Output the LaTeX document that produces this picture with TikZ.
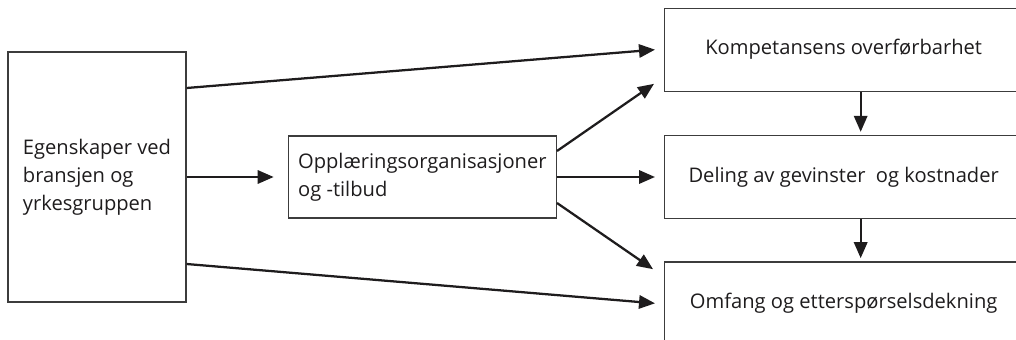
\documentclass[tikz,border=0pt]{standalone}
\usepackage{fontspec}
\setmainfont{Open Sans}
\usetikzlibrary{arrows.meta,positioning}
\definecolor{boxLine}{RGB}{60, 60, 60}
\definecolor{arrowInk}{RGB}{30, 28, 29}

\begin{document}
\begin{tikzpicture}[
  x=0.75pt, y=-0.75pt,
  factor/.style={
    draw=boxLine,
    line width=1pt,
    align=left,
    inner sep=0pt,
    font=\fontsize{15.1}{21}\selectfont,
    text=arrowInk
  },
  outcome/.style={
    factor,
    align=center,
    minimum width=268.5pt,
    minimum height=62.25pt
  },
  arrow/.style={-{Triangle[length=12pt,width=10pt]},line width=1.7pt,arrowInk}
]
  \clip (0,0) rectangle (1016,339);

  \node[factor,minimum width=133.5pt,minimum height=187.5pt] (egenskaper) at (97,177)
    {Egenskaper ved\\bransjen og\\yrkesgruppen};
  \node[factor,minimum width=201pt,minimum height=61.5pt,right=75.75pt of egenskaper] (opplaering)
    {Opplæringsorganisasjoner\\og -tilbud};
  \node[outcome,right=80.25pt of opplaering] (deling)
    {Deling av gevinster\ \ og kostnader};
  \node[outcome,above=32.25pt of deling] (kompetanse)
    {Kompetansens overførbarhet};
  \node[outcome,below=31.5pt of deling] (omfang)
    {Omfang og etterspørselsdekning};

  % fra bransjen
  \draw[arrow] ([yshift=66.75pt]egenskaper.east) -- ([xshift=-6.75pt]kompetanse.west);
  \draw[arrow,shorten >=10.5pt] (egenskaper) -- (opplaering);
  \draw[arrow] ([yshift=-65.25pt]egenskaper.east) -- ([xshift=-6.75pt]omfang.west);

  % fra opplaeringen
  \draw[arrow] ([yshift=19.5pt]opplaering.east) -- ([xshift=-7.5pt,yshift=6pt]kompetanse.south west);
  \draw[arrow,shorten >=6.75pt] (opplaering) -- (deling);
  \draw[arrow] ([yshift=-19.5pt]opplaering.east) -- ([xshift=-8.25pt,yshift=-6pt]omfang.north west);

  % nedover i kolonnen
  \draw[arrow,shorten >=2.25pt] ([xshift=12.75pt]kompetanse.south) -- ([xshift=12.75pt]deling.north);
  \draw[arrow,shorten >=2.25pt] ([xshift=12.75pt]deling.south) -- ([xshift=12.75pt]omfang.north);
\end{tikzpicture}
\end{document}
